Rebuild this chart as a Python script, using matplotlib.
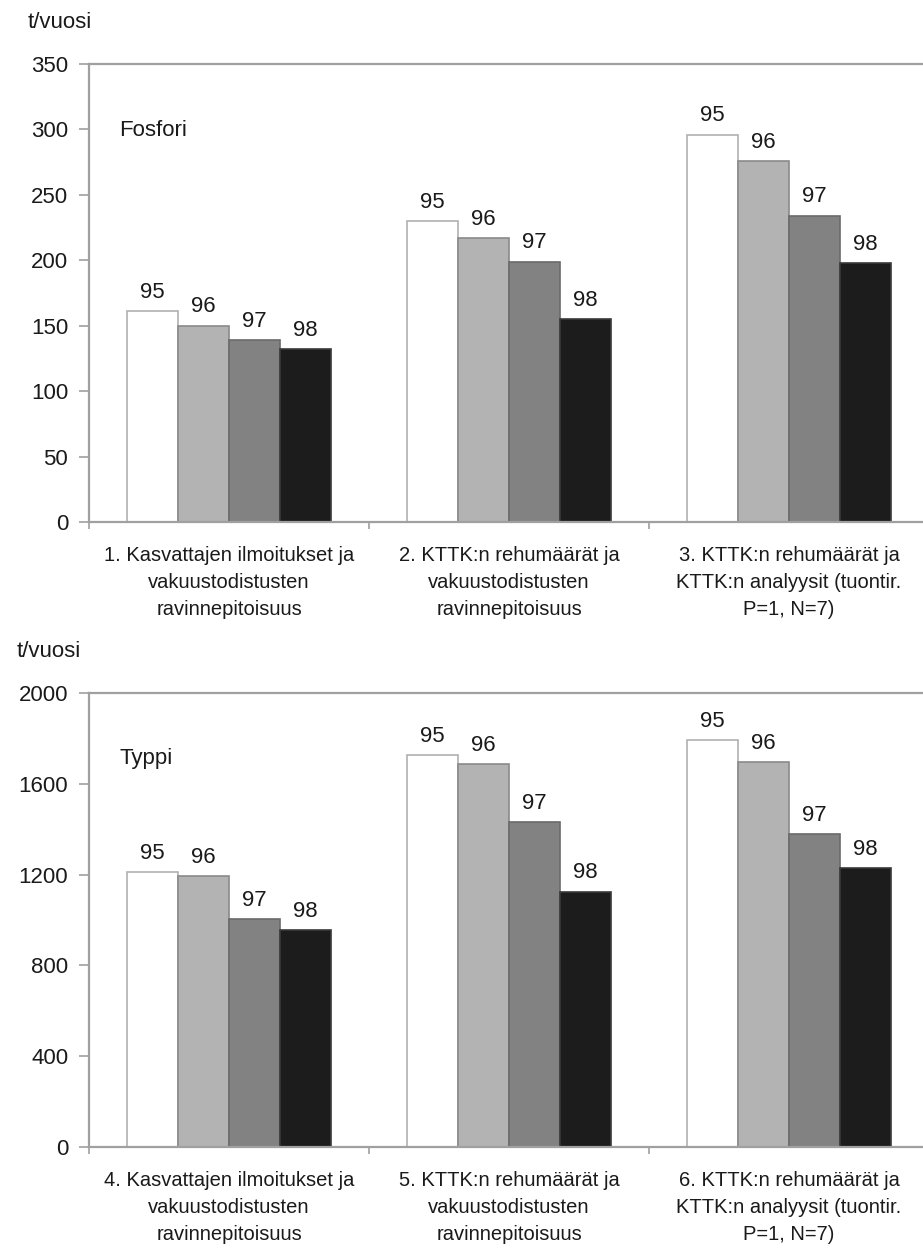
"""Fosfori- ja typpimäärät rehuissa 1995-1998 kolmella laskentatavalla.

Two stacked grouped-bar panels (Fosfori / Typpi), one bar per year.
"""

import matplotlib
matplotlib.use("Agg")
import matplotlib.pyplot as plt
import numpy as np

plt.rcParams["font.family"] = ["Liberation Sans", "DejaVu Sans"]

years = ["95", "96", "97", "98"]
bar_colors = ["#ffffff", "#b3b3b3", "#828282", "#1c1c1c"]
edge_colors = ["#b0b0b0", "#8a8a8a", "#6a6a6a", "#3a3a3a"]

# Fosfori, t/vuosi — rows = method 1..3, columns = year 95..98
fosfori = [
    [161, 150, 139, 132],
    [230, 217, 199, 155],
    [296, 276, 234, 198],
]
fosfori_labels = [
    "1. Kasvattajen ilmoitukset ja\nvakuustodistusten\nravinnepitoisuus",
    "2. KTTK:n rehumäärät ja\nvakuustodistusten\nravinnepitoisuus",
    "3. KTTK:n rehumäärät ja\nKTTK:n analyysit (tuontir.\nP=1, N=7)",
]
fosfori_ticks = [0, 50, 100, 150, 200, 250, 300, 350]

# Typpi, t/vuosi
typpi = [
    [1210, 1194, 1003, 956],
    [1727, 1687, 1432, 1125],
    [1793, 1695, 1379, 1228],
]
typpi_labels = [
    "4. Kasvattajen ilmoitukset ja\nvakuustodistusten\nravinnepitoisuus",
    "5. KTTK:n rehumäärät ja\nvakuustodistusten\nravinnepitoisuus",
    "6. KTTK:n rehumäärät ja\nKTTK:n analyysit (tuontir.\nP=1, N=7)",
]
typpi_ticks = [0, 400, 800, 1200, 1600, 2000]

W, H = 923, 1250
BAR_W = 0.182
SPINE = "#a0a0a0"
TXT = "#1a1a1a"


def _panel(fig, rect, values, cat_labels, yticks, name):
    ax = fig.add_axes(rect)
    values = np.array(values)
    x = np.arange(len(cat_labels))
    offsets = (np.arange(len(years)) - 1.5) * BAR_W
    for j, yr in enumerate(years):
        bars = ax.bar(x + offsets[j], values[:, j], width=BAR_W,
                      color=bar_colors[j], edgecolor=edge_colors[j], linewidth=1.2)
        for b in bars:
            ax.annotate(yr, (b.get_x() + b.get_width() / 2, b.get_height()),
                        xytext=(0, 6), textcoords="offset points",
                        ha="center", va="bottom", fontsize=16, color=TXT)

    ax.set_xlim(-0.5, len(cat_labels) - 0.5)
    ax.set_ylim(yticks[0], yticks[-1])
    ax.set_yticks(yticks)
    ax.tick_params(axis="y", length=7, width=1.2, color=SPINE, pad=8,
                   labelsize=16, labelcolor=TXT)

    # category names centred under groups, short ticks at group boundaries
    ax.set_xticks(x)
    ax.set_xticklabels(cat_labels, fontsize=14.5, linespacing=1.55, color=TXT)
    ax.tick_params(axis="x", length=0, pad=17)
    ax.set_xticks(np.arange(len(cat_labels) + 1) - 0.5, minor=True)
    ax.tick_params(axis="x", which="minor", length=5, width=1.2, color=SPINE)

    for s in ax.spines.values():
        s.set_color(SPINE)
        s.set_linewidth(1.6)

    ax.text(0.036, 0.855, name, transform=ax.transAxes, fontsize=16,
            color=TXT, va="center")
    return ax


fig = plt.figure(figsize=(W / 100, H / 100), dpi=100)

left = 89 / W
width = 840 / W
_panel(fig, [left, 1 - 522 / H, width, 458 / H], fosfori, fosfori_labels,
       fosfori_ticks, "Fosfori")
_panel(fig, [left, 1 - 1147 / H, width, 454 / H], typpi, typpi_labels,
       typpi_ticks, "Typpi")

fig.text(28 / W, 1 - 23 / H, "t/vuosi", fontsize=16, color=TXT, va="center")
fig.text(17 / W, 1 - 652 / H, "t/vuosi", fontsize=16, color=TXT, va="center")

fig.savefig("out.png", dpi=100)
